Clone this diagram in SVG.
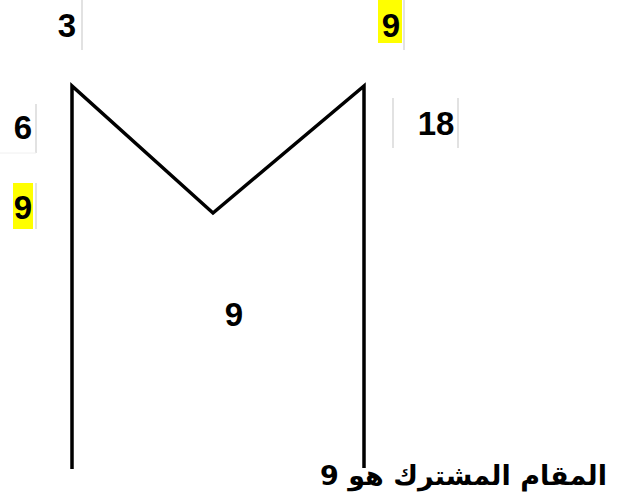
<svg xmlns="http://www.w3.org/2000/svg" width="632" height="495" viewBox="0 0 632 495">
<style>
.t{font-family:"Liberation Sans",Arial,sans-serif;font-weight:bold;font-size:33px;fill:#000;text-anchor:middle}
.ar{font-family:"DejaVu Sans","Liberation Sans",sans-serif;font-weight:bold;font-size:27px;fill:#000;text-anchor:end}
.hl{fill:#ffff00}
.bd{stroke:#d9d9d9;stroke-width:1.5;fill:none}
.ln{stroke:#000;stroke-width:3.5;fill:none;stroke-linejoin:miter}
</style>
<rect width="632" height="495" fill="#fff"/>
<g id="connectors">
<polyline class="ln" points="72,469 72,86 213,213 364,86 364,468"/>
</g>
<g id="n3">
<line class="bd" x1="82" y1="0" x2="82" y2="50"/>
<text class="t" x="67" y="37">3</text>
</g>
<g id="n9top">
<rect class="hl" x="378" y="0" width="24" height="43"/>
<line class="bd" x1="404" y1="0" x2="404" y2="50"/>
<text class="t" x="391" y="37">9</text>
</g>
<g id="n6">
<line class="bd" x1="36" y1="104" x2="36" y2="153"/>
<line x1="0" y1="153" x2="36" y2="153" stroke="#f0f0f0" stroke-width="1"/>
<text class="t" x="23" y="139">6</text>
</g>
<g id="n9left">
<rect class="hl" x="13" y="183" width="20" height="46"/>
<line class="bd" x1="36" y1="183" x2="36" y2="229"/>
<text class="t" x="23" y="219">9</text>
</g>
<g id="n18">
<line class="bd" x1="393" y1="98" x2="393" y2="148"/>
<line class="bd" x1="458" y1="98" x2="458" y2="148"/>
<text class="t" x="436" y="135">18</text>
</g>
<g id="n9center">
<text class="t" x="234" y="326">9</text>
</g>
<g id="caption">
<text class="ar" x="607" y="485">المقام المشترك هو 9</text>
</g>
</svg>
